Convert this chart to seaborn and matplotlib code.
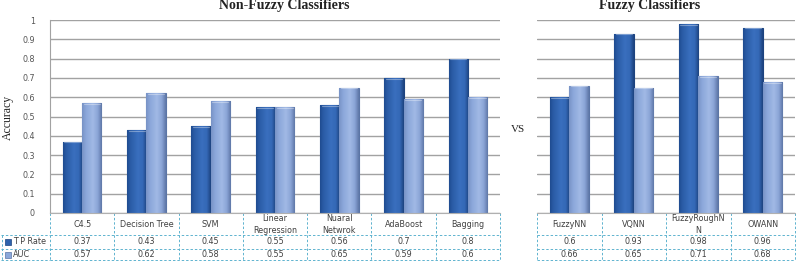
import numpy as np
import pandas as pd
import matplotlib
matplotlib.use("Agg")
import matplotlib.pyplot as plt
import seaborn as sns
from matplotlib.lines import Line2D
from matplotlib.patches import Rectangle
from matplotlib.colors import LinearSegmentedColormap

# ---------------- data ----------------
nonfuzzy_names = ["C4.5", "Decision Tree", "SVM", "Linear\nRegression",
                  "Nuaral\nNetwrok", "AdaBoost", "Bagging"]
nonfuzzy_tp = [0.37, 0.43, 0.45, 0.55, 0.56, 0.7, 0.8]
nonfuzzy_auc = [0.57, 0.62, 0.58, 0.55, 0.65, 0.59, 0.6]
fuzzy_names = ["FuzzyNN", "VQNN", "FuzzyRoughN\nN", "OWANN"]
fuzzy_tp = [0.6, 0.93, 0.98, 0.96]
fuzzy_auc = [0.66, 0.65, 0.71, 0.68]
series = ["T P Rate", "AUC"]
yticks = [0, 0.1, 0.2, 0.3, 0.4, 0.5, 0.6, 0.7, 0.8, 0.9, 1]
ytick_labels = ["0", "0.1", "0.2", "0.3", "0.4", "0.5", "0.6", "0.7", "0.8", "0.9", "1"]

# ---------------- style ----------------
sns.set_style("white")
plt.rcParams["font.family"] = ["DejaVu Sans"]

W, H = 796, 262
fig = plt.figure(figsize=(W / 100, H / 100), dpi=100)

tp_color = "#2f62ad"
auc_color = "#8ba8da"
tp_edge = "#1d437f"
auc_edge = "#5b75a6"
tp_cmap = LinearSegmentedColormap.from_list(
    "tp", [(0, "#1f4c90"), (0.15, "#2a5ba5"), (0.55, "#3a6fbe"), (0.8, "#3468b6"), (1, "#1d437f")])
auc_cmap = LinearSegmentedColormap.from_list(
    "auc", [(0, "#7893c6"), (0.2, "#8ba7da"), (0.55, "#a1b9e5"), (0.8, "#8aa4d6"), (1, "#5f78a8")])
grid_color = "#a2a2a2"
table_color = "#5fb3cf"
text_color = "#404040"
serif = ["Liberation Serif", "DejaVu Serif"]


def px_axes(x0, y_top, x1, y_bot):
    return fig.add_axes([x0 / W, (H - y_bot) / H, (x1 - x0) / W, (y_bot - y_top) / H])


ax1 = px_axes(50, 20, 500, 213)
ax2 = px_axes(537, 20, 795, 213)

grad = np.linspace(0, 1, 64).reshape(1, -1)


def draw_panel(ax, names, tp, auc):
    df = pd.DataFrame({
        "Classifier": list(names) * 2,
        "Metric": [series[0]] * len(names) + [series[1]] * len(names),
        "Accuracy": list(tp) + list(auc),
    })
    sns.barplot(data=df, x="Classifier", y="Accuracy", hue="Metric",
                order=names, hue_order=series, palette=[tp_color, auc_color],
                width=0.6, saturation=1, legend=False, ax=ax)
    for cont, ec, cm in zip(ax.containers, [tp_edge, auc_edge], [tp_cmap, auc_cmap]):
        for p in cont:
            p.set_edgecolor(ec)
            p.set_linewidth(0.8)
            x0, y0 = p.get_x(), p.get_y()
            w, h = p.get_width(), p.get_height()
            im = ax.imshow(grad, cmap=cm, aspect="auto", extent=(x0, x0 + w, y0, y0 + h),
                           zorder=p.get_zorder() + 0.01, interpolation="bilinear")
            im.set_clip_path(p)
            # top cap highlight
            ax.add_line(Line2D([x0 + w * 0.08, x0 + w * 0.92], [y0 + h - 0.004] * 2,
                               color="#ffffff", alpha=0.35, lw=0.8,
                               zorder=p.get_zorder() + 0.02))
    ax.set_ylim(0, 1)
    ax.set_xlim(-0.5, len(names) - 0.5)
    ax.set_yticks(yticks)
    ax.yaxis.grid(True, color=grid_color, lw=1.0)
    ax.xaxis.grid(False)
    ax.set_axisbelow(True)
    ax.set_xlabel("")
    ax.set_ylabel("")
    ax.set_xticks(range(len(names)))
    ax.set_xticklabels([])
    ax.tick_params(axis="x", length=0)
    for s in ["top", "right"]:
        ax.spines[s].set_visible(False)
    ax.spines["bottom"].set_color("#b0b0b0")
    ax.spines["bottom"].set_linewidth(0.8)


draw_panel(ax1, nonfuzzy_names, nonfuzzy_tp, nonfuzzy_auc)
draw_panel(ax2, fuzzy_names, fuzzy_tp, fuzzy_auc)

ax1.set_yticklabels(ytick_labels, fontsize=5.8, color="#555555")
ax1.tick_params(axis="y", length=3, color=grid_color, width=0.8, pad=8)
ax1.spines["left"].set_color(grid_color)
ax1.spines["left"].set_linewidth(0.8)

ax2.set_yticklabels([])
ax2.tick_params(axis="y", length=0)
ax2.spines["left"].set_visible(False)

# ---------------- titles and labels ----------------
fig.text(284 / W, 1 - 6 / H, "Non-Fuzzy Classifiers", ha="center", va="center",
         fontsize=10, fontweight="bold", family=serif, color="#222222")
fig.text(650 / W, 1 - 6 / H, "Fuzzy Classifiers", ha="center", va="center",
         fontsize=10, fontweight="bold", family=serif, color="#222222")
fig.text(8 / W, 1 - 117 / H, "Accuracy", rotation=90, ha="center", va="center",
         fontsize=8.5, family=serif, color="#222222")
fig.text(518 / W, 1 - 130 / H, "VS", ha="center", va="center",
         fontsize=8, family=serif, color="#222222")


# ---------------- data tables ----------------
def yax(ypix):
    return (213 - ypix) / 193.0


def draw_table(ax, names, tp, auc, with_legend):
    tr = ax.get_xaxis_transform()
    n = len(names)
    kw = dict(color=table_color, lw=0.7, ls=(0, (2.5, 2)), clip_on=False)
    for i in range(n + 1):
        ax.add_line(Line2D([i - 0.5, i - 0.5], [yax(213), yax(260)], transform=tr, **kw))
    for yp in [235, 249, 260]:
        ax.add_line(Line2D([-0.5, n - 0.5], [yax(yp), yax(yp)], transform=tr, **kw))
    for i, nm in enumerate(names):
        ax.text(i, yax(224.5), nm, transform=tr, ha="center", va="center",
                fontsize=5.8, color=text_color, linespacing=1.3)
        ax.text(i, yax(242), str(tp[i]), transform=tr, ha="center", va="center",
                fontsize=5.8, color=text_color)
        ax.text(i, yax(254.5), str(auc[i]), transform=tr, ha="center", va="center",
                fontsize=5.8, color=text_color)
    if with_legend:
        ft = fig.transFigure
        for yp in [235, 249, 260]:
            fig.add_artist(Line2D([1 / W, 50 / W], [1 - yp / H, 1 - yp / H], transform=ft, **kw))
        fig.add_artist(Line2D([1.5 / W, 1.5 / W], [1 - 235 / H, 1 - 260 / H], transform=ft, **kw))
        for yp, lab, fc, ec in [(242, series[0], tp_color, tp_edge),
                                (254.5, series[1], auc_color, auc_edge)]:
            fig.add_artist(Rectangle((5 / W, 1 - (yp + 3) / H), 6 / W, 6 / H,
                                     facecolor=fc, edgecolor=ec, lw=0.5, transform=ft))
            fig.text(13 / W, 1 - yp / H, lab, ha="left", va="center",
                     fontsize=5.8, color=text_color)


draw_table(ax1, nonfuzzy_names, nonfuzzy_tp, nonfuzzy_auc, True)
draw_table(ax2, fuzzy_names, fuzzy_tp, fuzzy_auc, False)

fig.savefig("out.png", dpi=100)
